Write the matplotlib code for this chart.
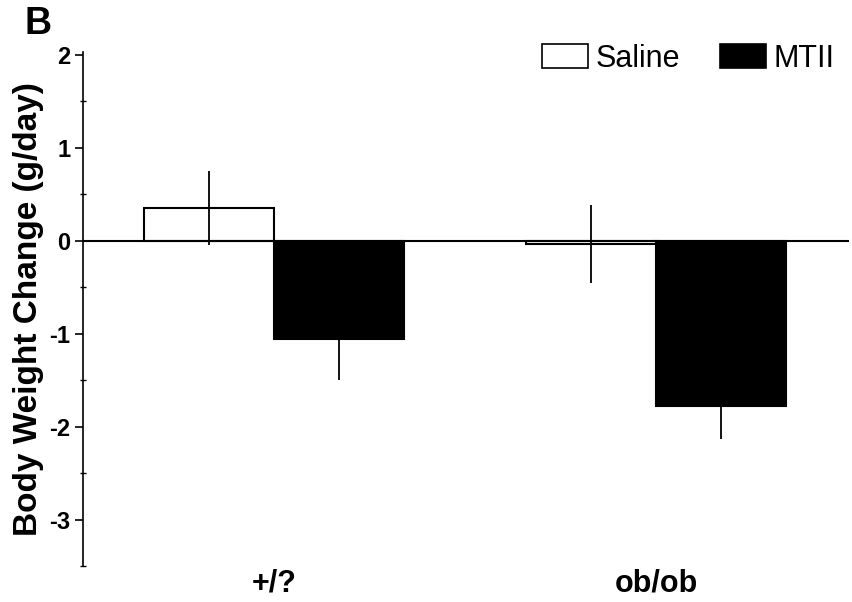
import matplotlib
matplotlib.use("Agg")
import matplotlib.pyplot as plt
import numpy as np
from matplotlib.patches import Patch

groups = ["+/?", "ob/ob"]
series = ["Saline", "MTII"]
saline_mean = [0.35, -0.04]
saline_sem = [0.40, 0.42]
mtii_mean = [-1.06, -1.78]
mtii_sem = [0.44, 0.35]
yticks = [-3, -2, -1, 0, 1, 2]

plt.rcParams['font.family'] = ['Liberation Sans', 'DejaVu Sans']

fig = plt.figure(figsize=(8.53, 6.02), dpi=100)
ax = fig.add_axes([83/853, 1-566/602, (849-83)/853, (566-52)/602])

x = np.arange(len(groups))
w = 0.34
ax.bar(x - w/2, saline_mean, w, color='white', edgecolor='black', linewidth=1.5, zorder=2)
ax.bar(x + w/2, mtii_mean, w, color='black', edgecolor='black', linewidth=1.5, zorder=2)
ax.errorbar(x - w/2, saline_mean, yerr=saline_sem, fmt='none', ecolor='black', elinewidth=1.3, capsize=0, zorder=3)
ax.errorbar(x + w/2, mtii_mean, yerr=mtii_sem, fmt='none', ecolor='black', elinewidth=1.3, capsize=0, zorder=3)
ax.axhline(0, color='black', linewidth=1.5, zorder=4)

ax.set_xlim(-0.5, 1.505)
ax.set_ylim(-3.5, 2.03)
ax.set_yticks(yticks)
ax.set_yticklabels([str(t) for t in yticks], fontsize=17, fontweight='bold')
ax.set_yticks(np.arange(-3.5, 2.01, 0.5), minor=True)
ax.tick_params(axis='y', which='major', direction='out', length=6, width=1.2, pad=3)
ax.tick_params(axis='y', which='minor', direction='inout', length=4, width=1.0)
ax.set_xticks(x)
ax.set_xticklabels(groups, fontsize=22, fontweight='bold')
ax.tick_params(axis='x', length=0, pad=2)
for s in ['top', 'right', 'bottom']:
    ax.spines[s].set_visible(False)
ax.spines['left'].set_linewidth(1.2)

ax.set_ylabel("Body Weight Change (g/day)", fontsize=24, fontweight='bold', labelpad=4)

handles = [Patch(facecolor='white', edgecolor='black', linewidth=1.2, label='Saline'),
           Patch(facecolor='black', edgecolor='black', linewidth=1.2, label='MTII')]
ax.legend(handles=handles, loc='upper right', bbox_to_anchor=(0.997, 1.04), ncol=2, frameon=False,
          fontsize=22, handlelength=1.5, handleheight=0.85, handletextpad=0.25, columnspacing=1.3,
          borderaxespad=0.0)

fig.text(25/853, 1-6/602, "B", fontsize=27, fontweight='bold', va='top', ha='left')

fig.savefig("out.png", dpi=100)
